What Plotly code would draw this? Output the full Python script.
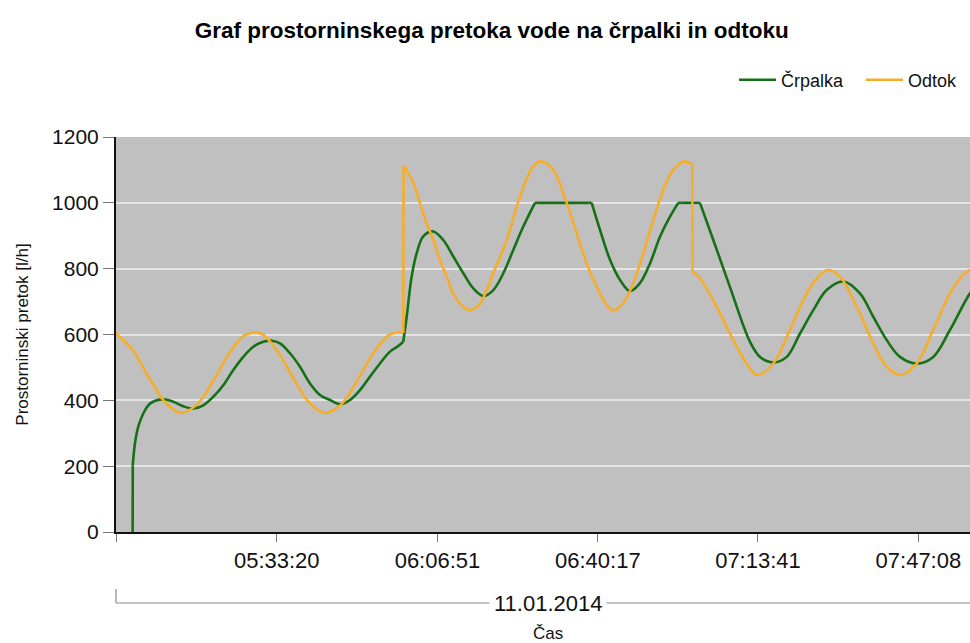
import pandas as pd
import plotly.graph_objects as go

# Time since 05:00:00 on 11.01.2014, in minutes
odtok_min = [-0.19, 3.33, 6.67, 10.0, 13.33, 16.67, 20.0, 23.33, 26.67, 30.0,
             33.33, 36.67, 40.0, 43.33, 46.67, 50.0, 53.33, 56.67, 58.62, 59.72,
             59.80, 61.81, 63.21, 64.60, 65.98, 67.37, 68.77, 70.15, 71.55, 73.63,
             75.71, 77.11, 78.49, 81.29, 84.06, 86.83, 88.58, 91.00, 93.80, 95.88,
             97.97, 100.05, 102.14, 103.51, 105.60, 107.68, 109.77, 111.86, 113.94, 116.03,
             118.47, 119.99, 120.05, 121.59, 125.08, 128.54, 131.33, 133.54, 136.88, 140.36,
             143.84, 146.62, 148.35, 150.79, 154.27, 157.73, 160.53, 163.51, 166.78, 170.24,
             173.73, 176.50, 177.90, 179.98]
odtok_val = [603, 552, 470, 395, 362, 387, 457, 541, 598, 603,
             552, 471, 395, 362, 386, 457, 540, 598, 607, 605,
             1113, 1060, 999, 938, 887, 827, 776, 725, 694, 674,
             694, 735, 786, 887, 1019, 1111, 1126, 1100, 1000, 908,
             816, 745, 690, 674, 695, 756, 847, 948, 1040, 1100,
             1126, 1116, 791, 771, 684, 583, 512, 477, 512, 614,
             725, 781, 796, 776, 685, 573, 502, 477, 512, 614,
             725, 781, 796, 790]

crpalka_min = [3.29, 3.31, 3.77, 4.46, 5.51, 6.90, 9.34, 11.76, 13.85, 15.93,
               18.02, 20.10, 22.19, 24.27, 26.36, 28.44, 30.53, 32.28, 34.01, 36.10,
               38.18, 40.27, 42.35, 44.44, 46.52, 48.61, 50.69, 52.78, 54.86, 56.95,
               58.68, 59.72, 60.43, 61.47, 62.52, 63.89, 65.98, 68.06, 70.15, 72.24,
               74.32, 76.41, 78.49, 80.58, 82.66, 84.75, 87.19, 87.8, 98.4, 99.01,
               100.74, 102.83, 104.91, 107.00, 109.08, 111.17, 113.25, 115.34, 117.07, 117.7,
               121.0, 121.59, 124.37, 127.85, 132.02, 134.11, 136.88, 139.68, 142.45, 145.22,
               148.01, 151.47, 154.95, 157.73, 160.53, 163.30, 166.78, 170.24, 173.73, 177.90,
               179.98]
crpalka_val = [0, 203, 269, 320, 360, 390, 403, 396, 382, 375,
               385, 411, 446, 492, 532, 563, 578, 581, 573, 543,
               502, 451, 416, 401, 388, 401, 431, 472, 512, 548,
               565, 578, 654, 776, 847, 898, 913, 887, 837, 786,
               740, 717, 735, 786, 857, 928, 1000, 1000, 1000, 1000,
               918, 827, 766, 732, 756, 816, 897, 958, 1000, 1000,
               1000, 1000, 887, 744, 578, 532, 515, 532, 603, 674,
               735, 761, 725, 654, 583, 532, 512, 532, 614, 725,
               760]

tick_labels = ["05:33:20", "06:06:51", "06:40:17", "07:13:41", "07:47:08"]
date_label = "11.01.2014"

base = pd.Timestamp("2014-01-11 05:00:00")
tickvals = [pd.Timestamp("2014-01-11 " + t) for t in tick_labels]

FONT = "Arial, Liberation Sans, sans-serif"
GREEN = "#167016"
ORANGE = "#f6ae2a"


def split_points(t, v, extra=()):
    """Indices where the smooth curve must break (jumps, plateaus, kinks)."""
    cut = {0, len(t) - 1}
    cut.update(extra)
    for i in range(1, len(t)):
        if t[i] - t[i - 1] < 0.1 or v[i] == v[i - 1]:
            cut.add(i - 1)
            cut.add(i)
    return sorted(cut)


fig = go.Figure()


def add_series(name, t, v, color, legend, extra=()):
    cuts = split_points(t, v, extra)
    first = True
    for a, b in zip(cuts[:-1], cuts[1:]):
        xs = base + pd.to_timedelta(t[a:b + 1], unit="min")
        fig.add_trace(go.Scatter(
            x=xs, y=v[a:b + 1], mode="lines", name=name, legendgroup=name,
            legend=legend, showlegend=first, hoverinfo="x+y",
            line=dict(color=color, width=2.6, shape="spline", smoothing=1)))
        first = False


add_series("Črpalka", crpalka_min, crpalka_val, GREEN, "legend", extra=(31,))
add_series("Odtok", odtok_min, odtok_val, ORANGE, "legend2")

x_start = pd.Timestamp("2014-01-11 04:59:49")
x_end = pd.Timestamp("2014-01-11 07:57:54")

legend_common = dict(orientation="h", xanchor="left", y=1 + 57 / 395, yanchor="middle",
                     font=dict(size=18, color="#111"), bgcolor="rgba(0,0,0,0)",
                     itemwidth=37)

fig.update_layout(
    width=970, height=643,
    margin=dict(l=116, r=0, t=137, b=111, autoexpand=False),
    paper_bgcolor="white", plot_bgcolor="#c0c0c0",
    font=dict(family=FONT, color="#111"),
    title=dict(text="<b>Graf prostorninskega pretoka vode na črpalki in odtoku</b>",
               x=0.507, xref="container", xanchor="center",
               y=1 - 30 / 643, yref="container", yanchor="middle",
               font=dict(size=22.5, color="#000", family=FONT)),
    legend=dict(x=(734 - 116) / 854, **legend_common),
    legend2=dict(x=(861 - 116) / 854, **legend_common),
    showlegend=True,
)

fig.update_xaxes(
    type="date", range=[x_start, x_end],
    tickmode="array", tickvals=[x_start] + tickvals, ticktext=[""] + tick_labels,
    ticks="outside", ticklen=8, tickwidth=1, tickcolor="#777",
    tickfont=dict(size=22, color="#111"),
    showline=True, linecolor="#111", linewidth=2,
    showgrid=False, zeroline=False,
)
fig.update_yaxes(
    range=[0, 1200], tickmode="array", tickvals=[0, 200, 400, 600, 800, 1000, 1200],
    ticks="outside", ticklen=11, tickwidth=1, tickcolor="#777",
    tickfont=dict(size=21, color="#111"),
    showline=True, linecolor="#111", linewidth=2,
    showgrid=True, gridcolor="#e4e4e4", gridwidth=1.5, zeroline=False,
    title=dict(text="Prostorninski pretok [l/h]", font=dict(size=17, color="#111"), standoff=19),
)

# date bracket below the time axis
fig.add_shape(type="line", xref="paper", yref="paper", x0=0, x1=1.02,
              y0=-71 / 395, y1=-71 / 395, line=dict(color="#8a8a8a", width=1.2))
fig.add_shape(type="line", xref="paper", yref="paper", x0=0, x1=0,
              y0=-71 / 395, y1=-57 / 395, line=dict(color="#8a8a8a", width=1.2))
fig.add_annotation(text=date_label, xref="paper", yref="paper", x=(548 - 116) / 854,
                   y=-71 / 395, xanchor="center", yanchor="middle", showarrow=False,
                   font=dict(size=22, color="#111"), bgcolor="white", borderpad=4)
fig.add_annotation(text="Čas", xref="paper", yref="paper", x=(548 - 116) / 854,
                   y=-101 / 395, xanchor="center", yanchor="middle", showarrow=False,
                   font=dict(size=17, color="#111"))

fig.write_html("out.html", config={"displayModeBar": False},
               post_script="document.body.style.margin='0';"
                           "document.body.style.overflow='hidden';")
